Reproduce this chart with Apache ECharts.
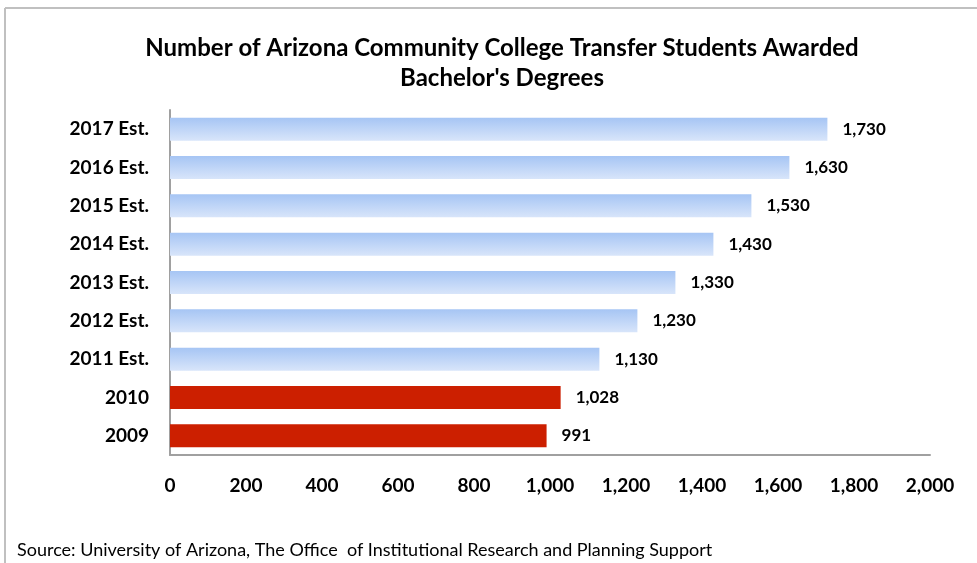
<!DOCTYPE html>
<html>
<head>
<meta charset="utf-8">
<script src="https://cdn.jsdelivr.net/npm/echarts@6/dist/echarts.min.js"></script>
<style>
  html, body { margin: 0; padding: 0; background: #fff; }
  #chart { width: 977px; height: 563px; }
</style>
</head>
<body>
<div id="chart"></div>
<script>
const years = ['2009', '2010', '2011 Est.', '2012 Est.', '2013 Est.', '2014 Est.', '2015 Est.', '2016 Est.', '2017 Est.']
const degrees = [991, 1028, 1130, 1230, 1330, 1430, 1530, 1630, 1730]
const estimated = [false, false, true, true, true, true, true, true, true]
const xTicks = [0, 200, 400, 600, 800, 1000, 1200, 1400, 1600, 1800, 2000]

const font = 'Lato, "Open Sans", sans-serif'
const blueFill = {
  type: 'linear', x: 0, y: 0, x2: 0, y2: 1,
  colorStops: [
    { offset: 0, color: '#a6c5f4' },
    { offset: 1, color: '#d8e5fa' },
  ],
}
const red = '#cc1f00'

const chart = echarts.init(document.getElementById('chart'))
chart.setOption({
  animation: false,
  title: {
    text: 'Number of Arizona Community College Transfer Students Awarded\nBachelor\'s Degrees',
    left: 497,
    textAlign: 'center',
    top: 28,
    textStyle: { fontFamily: font, fontWeight: 'bold', fontSize: 24, lineHeight: 30, color: '#000' },
  },
  grid: { left: 170, right: 47, top: 110, bottom: 108 },
  xAxis: {
    type: 'value',
    min: 0,
    max: 2000,
    interval: 200,
    splitLine: { show: false },
    axisTick: { show: false },
    axisLine: { show: true, lineStyle: { color: '#a0a0a0', width: 2 } },
    axisLabel: {
      margin: 21,
      fontFamily: font, fontWeight: 'bold', fontSize: 19, color: '#000',
      formatter: v => xTicks.includes(v) ? v.toLocaleString('en-US') : '',
    },
  },
  yAxis: {
    type: 'category',
    data: years,
    axisTick: { show: false },
    axisLine: { show: true, lineStyle: { color: '#a0a0a0', width: 2 } },
    axisLabel: { margin: 21, fontFamily: font, fontWeight: 'bold', fontSize: 19, color: '#000' },
  },
  series: [{
    type: 'bar',
    barWidth: 23,
    data: degrees.map((v, i) => ({
      value: v,
      itemStyle: { color: estimated[i] ? blueFill : red },
    })),
    label: {
      show: true,
      position: 'right',
      distance: 15,
      fontFamily: font, fontWeight: 'bold', fontSize: 17, color: '#000',
      formatter: p => p.value.toLocaleString('en-US'),
    },
  }],
  graphic: [
    { type: 'line', shape: { x1: 5, y1: 8, x2: 977, y2: 8 }, style: { stroke: '#c0c0c0', lineWidth: 2 } },
    { type: 'line', shape: { x1: 5, y1: 8, x2: 5, y2: 563 }, style: { stroke: '#c0c0c0', lineWidth: 2 } },
    {
      type: 'text', left: 17, top: 541,
      style: {
        text: 'Source: University of Arizona, The Office  of Institutional Research and Planning Support',
        font: '18px ' + font, fill: '#000',
      },
    },
  ],
})
</script>
</body>
</html>
